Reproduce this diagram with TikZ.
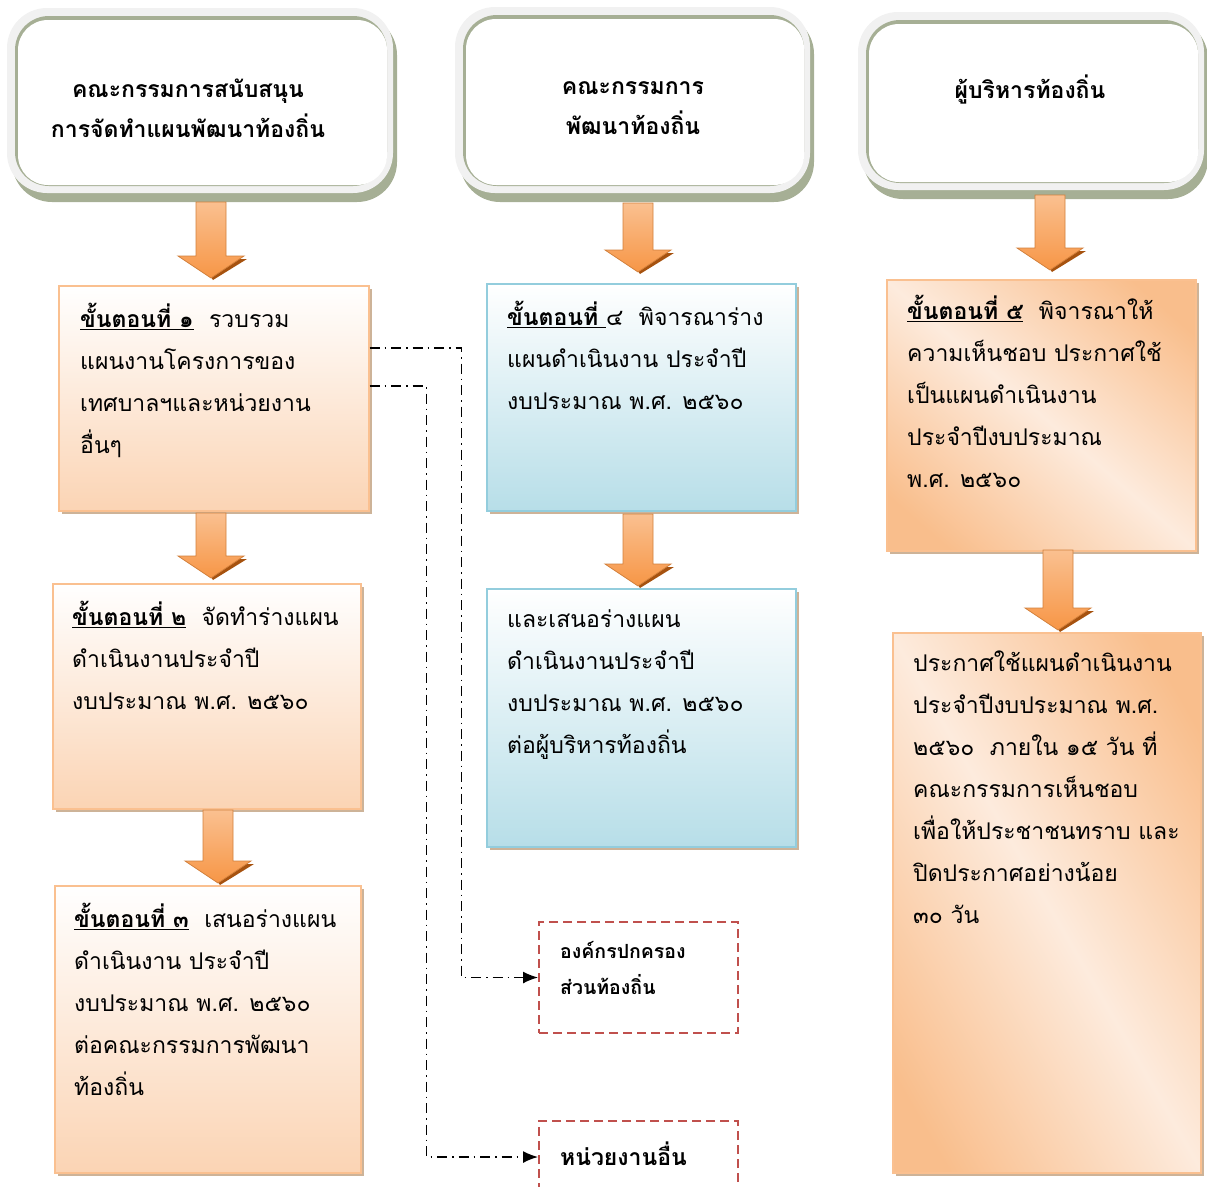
\documentclass[tikz,border=0pt]{standalone}
\usepackage{fontspec}
\newfontfamily\thaifont[Script=Thai]{Loma}
\usetikzlibrary{calc}
\usetikzlibrary{arrows.meta}
\usetikzlibrary{shadows}

\definecolor{arrowOrange}{HTML}{F79646}
\definecolor{arrowLight}{HTML}{FAC090}
\definecolor{arrowDark}{HTML}{A6520F}
\definecolor{peachLine}{HTML}{FAC090}
\definecolor{peachFill}{HTML}{FBD4B4}
\definecolor{peachDeep}{HTML}{F9BE8C}
\definecolor{peachPale}{HTML}{FDEBDD}
\definecolor{blueLine}{HTML}{93CDDD}
\definecolor{blueFill}{HTML}{B7DEE8}
\definecolor{redDash}{HTML}{C0504D}
\definecolor{headShade}{HTML}{A6AF95}
\definecolor{headRim}{HTML}{F1F1F1}

\pgfdeclarehorizontalshading{peachband}{100bp}{color(0bp)=(peachDeep); color(22bp)=(peachDeep); color(50bp)=(peachPale); color(78bp)=(peachDeep); color(100bp)=(peachDeep)}

\begin{document}
\begin{tikzpicture}[x=1pt,y=-1pt,
	headface/.style={fill=white, rounded corners=30pt, inner sep=0pt},
	headtext/.style={align=center, inner sep=0pt, font=\thaifont\bfseries\fontsize{23}{40}\selectfont},
	stepbox/.style={anchor=north west, line width=1.5pt, inner sep=0pt,
		drop shadow={shadow xshift=3pt, shadow yshift=-3pt, fill=brown!70!gray, opacity=.6}},
	peachbox/.style={stepbox, draw=peachLine, top color=white, bottom color=peachFill},
	bluebox/.style={stepbox, draw=blueLine, top color=white, bottom color=blueFill},
	bandbox/.style={stepbox, draw=peachLine, shading=peachband},
	steptext/.style={anchor=north west, align=left, inner sep=0pt, font=\thaifont\fontsize{23}{42}\selectfont},
	dashbox/.style={anchor=north west, draw=redDash, line width=2pt, dash pattern=on 9pt off 5pt, minimum width=199pt},
	dashtext/.style={anchor=north west, align=left, inner sep=0pt, font=\thaifont\bfseries\fontsize{19.5}{36}\selectfont},
	linkline/.style={line width=1.5pt, dash pattern=on 10pt off 5pt on 1.5pt off 5pt, -{Latex[length=15pt,width=12pt]}}
]

	% page size of the original
	\useasboundingbox (0,0) rectangle (1207,1186);
	\clip (0,0) rectangle (1207,1186);

	% macro for the framed heading boxes
	\newcommand{\headFrame}[4]{
		\fill[headShade, rounded corners=40pt] ({#1+5},{#2+7}) rectangle ({#3+4},{#4+9});
		\fill[headRim, rounded corners=40pt] (#1,#2) rectangle (#3,#4);
		\fill[headShade, rounded corners=34pt] ({#1+8},{#2+8}) rectangle ({#3-6},{#4-7});
	}
	% macro for the orange block arrows: x centre, y top, y tip
	\newcommand{\blockArrow}[3]{
		\fill[arrowDark] ({#1-13},{#3-19}) -- ({#1+36},{#3-19}) -- ({#1+2},{#3+2}) -- cycle;
		\shade[top color=arrowLight, bottom color=arrowOrange, draw=arrowOrange!85!black, line width=.8pt]
			({#1-15},#2) -- ({#1+15},#2) -- ({#1+15},{#3-22}) -- ({#1+33},{#3-22}) -- (#1,#3)
			-- ({#1-33},{#3-22}) -- ({#1-15},{#3-22}) -- cycle;
	}

	% heading boxes
	\headFrame{7}{8}{393}{193}
	\headFrame{455}{7}{810}{193}
	\headFrame{858}{12}{1204}{190}
	\node[headface, minimum width=369pt, minimum height=165pt] (hA) at (202.5,102.5) {};
	\node[headface, minimum width=338pt, minimum height=166pt] (hB) at (635,102) {};
	\node[headface, minimum width=329pt, minimum height=158pt] (hC) at (1033.5,103) {};
	\node[headtext] (hAt) at (188,108) {คณะกรรมการสนับสนุน\\การจัดทำแผนพัฒนาท้องถิ่น};
	\node[headtext] (hBt) at (633,108) {คณะกรรมการ\\พัฒนาท้องถิ่น};
	\node[headtext] (hCt) at (1030,90) {ผู้บริหารท้องถิ่น};

	% steps of the first column
	\node[peachbox, minimum width=310pt, minimum height=225pt] (s1) at (58,285) {};
	\node[steptext] (s1t) at ($(s1.north west)+(22,18)$) {\underline{\textbf{ขั้นตอนที่ ๑}}\ \ รวบรวม\\แผนงานโครงการของ\\เทศบาลฯและหน่วยงาน\\อื่นๆ};
	\node[peachbox, minimum width=308pt, minimum height=225pt] (s2) at (52,583) {};
	\node[steptext] (s2t) at ($(s2.north west)+(20,18)$) {\underline{\textbf{ขั้นตอนที่ ๒}}\ \ จัดทำร่างแผน\\ดำเนินงานประจำปี\\งบประมาณ พ.ศ. ๒๕๖๐};
	\node[peachbox, minimum width=306pt, minimum height=287pt] (s3) at (54,885) {};
	\node[steptext] (s3t) at ($(s3.north west)+(20,18)$) {\underline{\textbf{ขั้นตอนที่ ๓}}\ \ เสนอร่างแผน\\ดำเนินงาน ประจำปี\\งบประมาณ พ.ศ. ๒๕๖๐\\ต่อคณะกรรมการพัฒนา\\ท้องถิ่น};

	% steps of the second column
	\node[bluebox, minimum width=309pt, minimum height=227pt] (s4) at (486,283) {};
	\node[steptext] (s4t) at ($(s4.north west)+(21,18)$) {\underline{\textbf{ขั้นตอนที่ }}๔\ \ พิจารณาร่าง\\แผนดำเนินงาน ประจำปี\\งบประมาณ พ.ศ. ๒๕๖๐};
	\node[bluebox, minimum width=309pt, minimum height=258pt] (s4b) at (486,588) {};
	\node[steptext] (s4bt) at ($(s4b.north west)+(21,21)$) {และเสนอร่างแผน\\ดำเนินงานประจำปี\\งบประมาณ พ.ศ. ๒๕๖๐\\ต่อผู้บริหารท้องถิ่น};

	% steps of the third column
	\node[bandbox, shading angle=49, minimum width=309pt, minimum height=271pt] (s5) at (886,279) {};
	\node[steptext] (s5t) at ($(s5.north west)+(21,16)$) {\underline{\textbf{ขั้นตอนที่ ๕}}\ \ พิจารณาให้\\ความเห็นชอบ ประกาศใช้\\เป็นแผนดำเนินงาน\\ประจำปีงบประมาณ\\พ.ศ. ๒๕๖๐};
	\node[bandbox, shading angle=30, minimum width=308pt, minimum height=540pt] (s6) at (892,632) {};
	\node[steptext] (s6t) at ($(s6.north west)+(21,19)$) {ประกาศใช้แผนดำเนินงาน\\ประจำปีงบประมาณ พ.ศ.\\๒๕๖๐\ \ ภายใน ๑๕ วัน ที่\\คณะกรรมการเห็นชอบ\\เพื่อให้ประชาชนทราบ และ\\ปิดประกาศอย่างน้อย\\๓๐ วัน};

	% receivers of the plan
	\node[dashbox, minimum height=111pt] (orgD) at (538,921) {};
	\node[dashtext] (orgDt) at ($(orgD.north west)+(22,20)$) {องค์กรปกครอง\\ส่วนท้องถิ่น};
	\node[dashbox, minimum height=72pt] (otherE) at (538,1120) {};
	\node[dashtext, font=\thaifont\bfseries\fontsize{23}{36}\selectfont] (otherEt) at ($(otherE.north west)+(22,22)$) {หน่วยงานอื่น};

	% block arrows between the boxes
	\blockArrow{211}{202}{278}
	\blockArrow{211}{513}{578}
	\blockArrow{218}{810}{883}
	\blockArrow{638}{203}{272}
	\blockArrow{638}{514}{586}
	\blockArrow{1050}{195}{270}
	\blockArrow{1058}{550}{630}

	% dash dot links from step 1
	\draw[linkline] ($(s1.north east)+(0,63)$) -- ++(92,0) |- (orgD.west);
	\draw[linkline] ($(s1.north east)+(0,101)$) -- ++(57,0) |- (otherE.west);

\end{tikzpicture}
\end{document}
